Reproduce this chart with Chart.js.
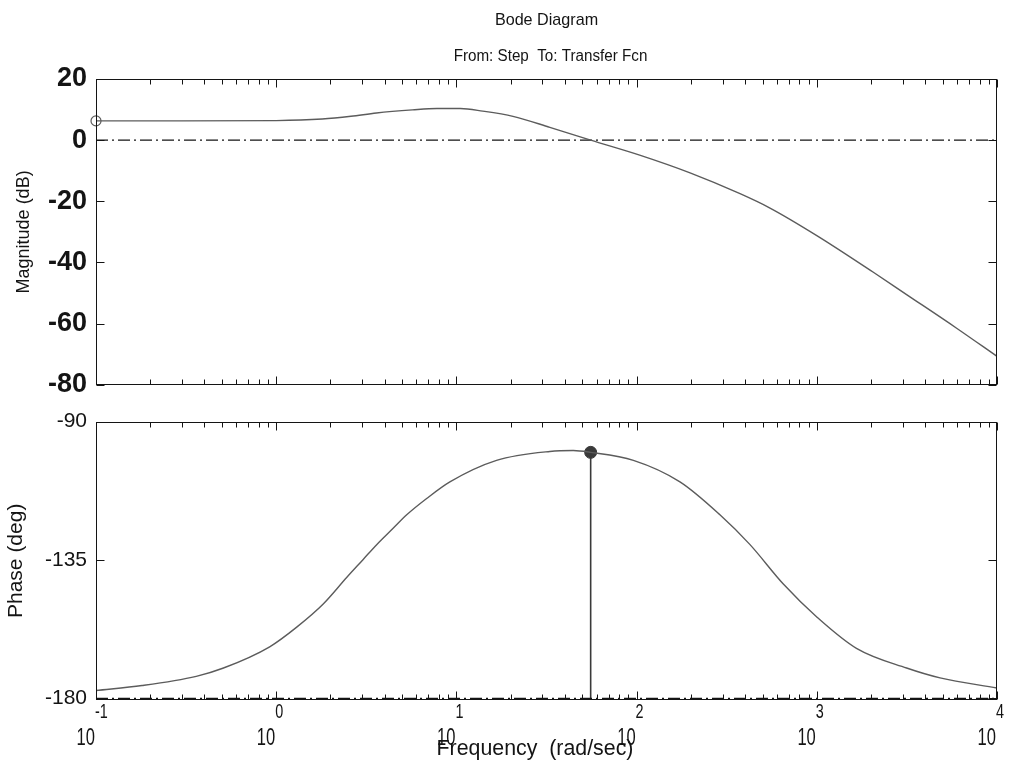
<!DOCTYPE html>
<html>
<head>
<meta charset="utf-8">
<title>Bode Diagram</title>
<script src="https://cdn.jsdelivr.net/npm/chart.js@4.4.1/dist/chart.umd.min.js"></script>
<style>
  html, body { margin: 0; padding: 0; background: #fff; }
  #wrap { position: relative; width: 1015px; height: 760px; overflow: hidden; }
  .pane { position: absolute; left: 0; width: 1015px; }
  #mag-pane { top: 0; height: 410px; }
  #phase-pane { top: 400px; height: 360px; }
</style>
</head>
<body>
<div id="wrap">
  <div class="pane" id="mag-pane"><canvas id="mag" width="1015" height="410"></canvas></div>
  <div class="pane" id="phase-pane"><canvas id="phase" width="1015" height="360"></canvas></div>
</div>
<script>
// ── Response data (rad/sec, dB, deg) ──────────────────────────────────────
const magFreq   = [0.1, 0.3, 1, 1.8, 2.6, 3.6, 5.7, 7.8, 10.5, 14, 20.6, 33, 55.6, 104, 198, 375, 550, 1000, 2060, 3150, 5970, 10000];
const magDb     = [6.3, 6.3, 6.4, 6.9, 7.8, 8.9, 9.9, 10.35, 10.35, 9.5, 7.8, 4.2, 0, -4.9, -10.7, -17.5, -22.2, -31.2, -43.2, -50.5, -61.5, -70.7];

const phaseFreq = [0.1, 0.18, 0.36, 0.51, 0.92, 1.3, 1.83, 2.46, 3.04, 3.61, 4.47, 5.3, 6.84, 9.2, 16.7, 33, 44.5, 55.6, 96, 174, 290, 426, 652, 1000, 1660, 3150, 4830, 10000];
const phaseDeg  = [-177.4, -175.8, -172.8, -170.1, -163.2, -156.8, -149.2, -140.7, -134.8, -130.0, -124.6, -120.3, -115.0, -109.6, -102.6, -99.7, -99.4, -100.0, -102.6, -109.6, -120.3, -130.0, -142.8, -153.5, -163.7, -170.1, -173.3, -176.6];

// margin markers
const gainMarkFreq  = 0.1;
const gainMarkDb    = 6.3;
const phaseMarkFreq = 55.6;
const phaseMarkDeg  = -100;

// axes
const freqRange   = [0.1, 10000];
const decades     = [0.1, 1, 10, 100, 1000, 10000];
const decadeExps  = ['-1', '0', '1', '2', '3', '4'];
const magTicks    = [-80, -60, -40, -20, 0, 20];
const phaseTicks  = [-180, -135, -90];
const magLimits   = [-80, 20];
const phaseLimits = [-180.5, -90];

// ── Styling ───────────────────────────────────────────────────────────────
const ink     = '#141414';
const trace   = '#5c5c5c';
const dashDot = [12, 4, 2, 4];
const sans    = '"Liberation Sans", Arial, sans-serif';

const minorTicks = [];
for (let i = 0; i < decades.length - 1; i++) {
  for (let m = 2; m <= 9; m++) minorTicks.push(decades[i] * m);
}

const pts = (xs, ys) => xs.map((x, i) => ({ x, y: ys[i] }));

// text squeezed horizontally, like the old screen fonts
function narrowText(ctx, text, x, y, font, align, squeeze) {
  ctx.save();
  ctx.font = font;
  ctx.textAlign = align;
  ctx.translate(x, y);
  ctx.scale(squeeze, 1);
  ctx.fillText(text, 0, 0);
  ctx.restore();
}

// Matlab-style boxed axes: frame plus inward ticks on every side
const boxTicks = {
  id: 'boxTicks',
  afterDatasetsDraw(chart) {
    const { ctx, chartArea: a, scales: { x, y } } = chart;
    const L = Math.round(a.left) + 0.5, R = Math.round(a.right) - 0.5;
    const T = Math.round(a.top) + 0.5,  B = Math.round(a.bottom) - 0.5;
    ctx.save();
    ctx.strokeStyle = ink;
    ctx.lineWidth = 1;
    ctx.strokeRect(L, T, R - L, B - T);
    ctx.beginPath();
    for (const t of y.ticks) {
      const py = Math.round(y.getPixelForValue(t.value)) + 0.5;
      ctx.moveTo(L, py); ctx.lineTo(L + 8, py);
      ctx.moveTo(R, py); ctx.lineTo(R - 8, py);
    }
    const xt = (v, len) => {
      const px = Math.round(x.getPixelForValue(v)) + 0.5;
      ctx.moveTo(px, T); ctx.lineTo(px, T + len);
      ctx.moveTo(px, B); ctx.lineTo(px, B - len);
    };
    decades.forEach(v => xt(v, 8));
    minorTicks.forEach(v => xt(v, 5));
    ctx.stroke();
    ctx.restore();
  }
};

// figure title over the magnitude axes
const figTitle = {
  id: 'figTitle',
  afterDraw(chart) {
    const { ctx, chartArea: a } = chart;
    const cx = (a.left + a.right) / 2;
    ctx.save();
    ctx.fillStyle = ink;
    narrowText(ctx, 'Bode Diagram', cx, 25, '17px ' + sans, 'center', 0.95);
    narrowText(ctx, 'From: Step  To: Transfer Fcn', cx + 4, 61, '16px ' + sans, 'center', 0.95);
    ctx.restore();
  }
};

// 10^n labels and the frequency label under the phase axes
const decadeLabels = {
  id: 'decadeLabels',
  afterDraw(chart) {
    const { ctx, chartArea: a, scales: { x } } = chart;
    ctx.save();
    ctx.fillStyle = ink;
    decades.forEach((d, i) => {
      const px = x.getPixelForValue(d);
      narrowText(ctx, '10', px - 1, a.bottom + 45, '23px ' + sans, 'right', 0.72);
      narrowText(ctx, decadeExps[i], px - 1, a.bottom + 18, '20px ' + sans, 'left', 0.72);
    });
    narrowText(ctx, 'Frequency  (rad/sec)', 535, a.bottom + 55, '22px ' + sans, 'center', 0.97);
    ctx.restore();
  }
};

const fixedTicks = list => s => { s.ticks = list.map(v => ({ value: v })); };
const smooth = { borderWidth: 1.4, pointRadius: 0, cubicInterpolationMode: 'monotone' };

// ── Magnitude ─────────────────────────────────────────────────────────────
new Chart(document.getElementById('mag'), {
  type: 'line',
  data: {
    datasets: [
      { data: pts(magFreq, magDb), borderColor: trace, ...smooth },
      { data: pts(freqRange, [0, 0]), borderColor: ink, borderWidth: 1.2, borderDash: dashDot, pointRadius: 0 },
      { data: pts([gainMarkFreq], [gainMarkDb]), showLine: false, clip: false,
        pointRadius: 5, pointBorderColor: trace, pointBackgroundColor: 'rgba(0,0,0,0)', pointBorderWidth: 1.2 },
    ],
  },
  options: {
    responsive: false, animation: false,
    layout: { padding: { top: 79, right: 18, bottom: 13, left: 0 } },
    plugins: { legend: { display: false }, tooltip: { enabled: false } },
    scales: {
      x: { type: 'logarithmic', min: freqRange[0], max: freqRange[1], display: false },
      y: {
        min: magLimits[0], max: magLimits[1],
        afterBuildTicks: fixedTicks(magTicks),
        afterFit: s => { s.width = 96; },
        grid: { drawOnChartArea: false, drawTicks: false },
        border: { display: false },
        ticks: { padding: 9, color: ink, font: { family: sans, size: 27, weight: 'bold' } },
        title: { display: true, text: 'Magnitude (dB)', color: ink,
                 font: { family: sans, size: 18 }, padding: { top: 13, bottom: 0 } },
      },
    },
  },
  plugins: [boxTicks, figTitle],
});

// ── Phase ─────────────────────────────────────────────────────────────────
new Chart(document.getElementById('phase'), {
  type: 'line',
  data: {
    datasets: [
      { data: pts(phaseFreq, phaseDeg), borderColor: trace, ...smooth },
      { data: pts(freqRange, [-180, -180]), borderColor: ink, borderWidth: 1.2, borderDash: dashDot, pointRadius: 0 },
      { data: pts([phaseMarkFreq, phaseMarkFreq], [phaseLimits[0], phaseMarkDeg]), borderColor: '#3a3a3a', borderWidth: 1.6, pointRadius: 0 },
      { data: pts([phaseMarkFreq], [phaseMarkDeg]), showLine: false,
        pointRadius: 6, pointBorderColor: '#3a3a3a', pointBackgroundColor: '#3a3a3a' },
    ],
  },
  options: {
    responsive: false, animation: false,
    layout: { padding: { top: 19, right: 18, bottom: 0, left: 0 } },
    plugins: { legend: { display: false }, tooltip: { enabled: false } },
    scales: {
      x: {
        type: 'logarithmic', min: freqRange[0], max: freqRange[1],
        afterFit: s => { s.height = 60; },
        grid: { display: false }, border: { display: false },
        ticks: { display: false },
      },
      y: {
        min: phaseLimits[0], max: phaseLimits[1],
        afterBuildTicks: fixedTicks(phaseTicks),
        afterFit: s => { s.width = 96; },
        grid: { drawOnChartArea: false, drawTicks: false },
        border: { display: false },
        ticks: { padding: 9, color: ink, font: { family: sans, size: 21 } },
        title: { display: true, text: 'Phase (deg)', color: ink,
                 font: { family: sans, size: 21 }, padding: { top: 4, bottom: 0 } },
      },
    },
  },
  plugins: [boxTicks, decadeLabels],
});
</script>
</body>
</html>
